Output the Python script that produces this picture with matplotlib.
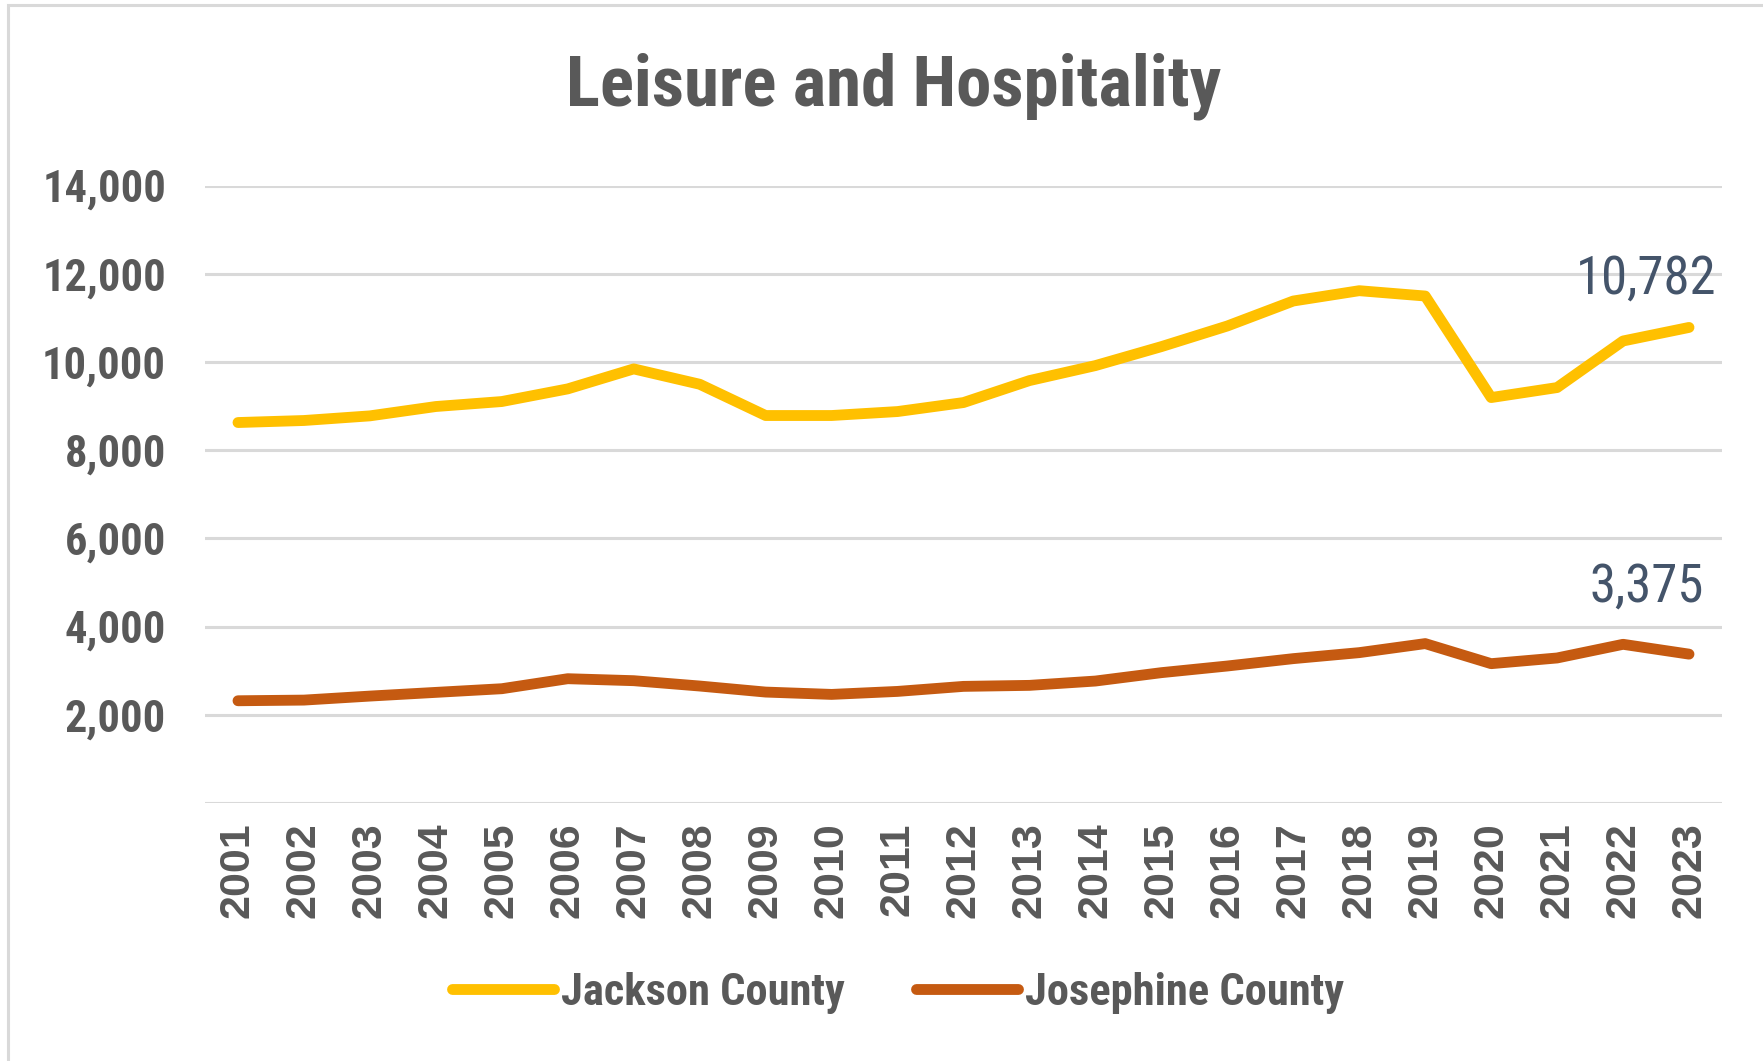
import matplotlib
matplotlib.use("Agg")
import matplotlib.pyplot as plt
from matplotlib.patches import Rectangle
from matplotlib import font_manager

# Data
years = [str(y) for y in range(2001, 2024)]
jackson = [8626, 8672, 8777, 8989, 9102, 9389, 9842, 9494, 8785, 8785, 8875, 9079,
           9577, 9917, 10347, 10815, 11381, 11615, 11494, 9192, 9419, 10475, 10782]
josephine = [2318, 2333, 2424, 2508, 2591, 2818, 2773, 2652, 2515, 2462, 2530, 2644,
             2667, 2765, 2955, 3106, 3273, 3409, 3614, 3159, 3288, 3598, 3375]
yticks = [2000, 4000, 6000, 8000, 10000, 12000, 14000]

# pick a narrow family if one is around
installed = {f.name for f in font_manager.fontManager.ttflist}
narrow = [n for n in ['Liberation Sans Narrow', 'Arial Narrow', 'Roboto Condensed',
                      'Open Sans Condensed', 'DejaVu Sans Condensed', 'Noto Sans Condensed']
          if n in installed] + ['DejaVu Sans']
wide = [n for n in ['Arimo', 'Arial', 'Liberation Sans'] if n in installed] + ['DejaVu Sans']
txt_color = '#595959'

fig = plt.figure(figsize=(17.63, 10.61), dpi=100)
ax = fig.add_axes([205 / 1763, 1 - 803 / 1061, (1722 - 205) / 1763, (803 - 185.5) / 1061])

x = list(range(len(years)))
ax.plot(x, jackson, color='#FFC000', lw=7.8, solid_capstyle='round',
        solid_joinstyle='round', label='Jackson County', zorder=3)
ax.plot(x, josephine, color='#C55A11', lw=7.8, solid_capstyle='round',
        solid_joinstyle='round', label='Josephine County', zorder=3)

ax.set_xlim(-0.5, len(years) - 0.5)
ax.set_ylim(0, 14000)
ax.set_yticks([0] + yticks)
ax.set_yticklabels([''] + [f"{v:,}" for v in yticks], family=narrow,
                   fontweight='bold', fontsize=32, color=txt_color)
ax.set_xticks(x)
ax.set_xticklabels(years, rotation=90, fontweight='bold', fontsize=31,
                   color=txt_color, family=wide)
ax.tick_params(axis='both', length=0)
ax.tick_params(axis='x', pad=14)
ax.tick_params(axis='y', pad=28)
ax.grid(axis='y', color='#D9D9D9', lw=2.2, zorder=0)
for s in ax.spines.values():
    s.set_visible(False)

# end labels
ax.annotate(f"{jackson[-1]:,}", (x[-1], jackson[-1]), xytext=(20, 35),
            textcoords='offset points', ha='right', va='center', fontsize=38,
            color='#44546A', family=narrow)
ax.annotate(f"{josephine[-1]:,}", (x[-1], josephine[-1]), xytext=(11, 48),
            textcoords='offset points', ha='right', va='center', fontsize=38,
            color='#44546A', family=narrow)

fig.text(894 / 1763, 1 - 86 / 1061, 'Leisure and Hospitality', ha='center',
         va='center', fontsize=51, fontweight='bold', color=txt_color, family=narrow)

leg = fig.legend(loc='center', bbox_to_anchor=(898 / 1763, 1 - 993 / 1061), ncol=2,
                 frameon=False, handlelength=2.3, handletextpad=0.15,
                 columnspacing=1.6, prop={'family': narrow, 'weight': 'bold', 'size': 32})
for t in leg.get_texts():
    t.set_color(txt_color)

# chart border (top and left visible)
fig.patches.append(Rectangle((8 / 1763, -0.05), 1.1, 1 - 5 / 1061 + 0.05,
                             transform=fig.transFigure, fill=False,
                             edgecolor='#D9D9D9', lw=2.2))

fig.savefig('out.png', dpi=100)
